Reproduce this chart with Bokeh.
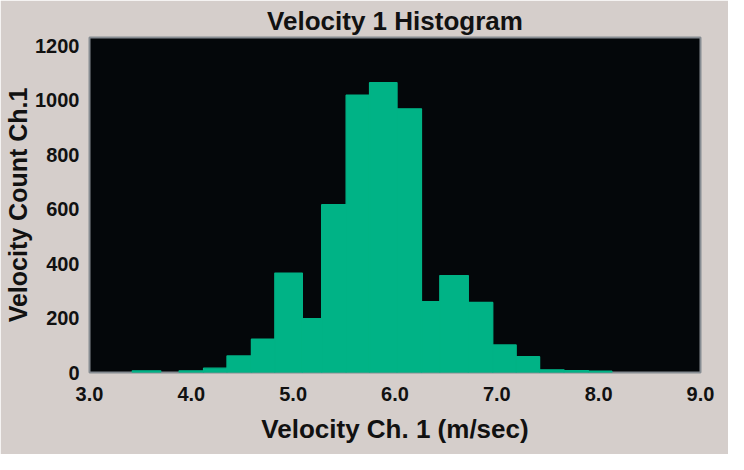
from bokeh.plotting import figure
from bokeh.models import FixedTicker, PrintfTickFormatter, Range1d, ColumnDataSource
from bokeh.embed import file_html
from bokeh.resources import INLINE

# Histogram bins (m/sec) and counts
bin_left = [3.42, 3.88, 4.12, 4.35, 4.59, 4.82, 5.09, 5.28, 5.52, 5.75, 6.02, 6.26, 6.44, 6.72, 6.96, 7.19, 7.42, 7.66, 7.90]
bin_right = [3.70, 4.12, 4.35, 4.59, 4.82, 5.09, 5.28, 5.52, 5.75, 6.02, 6.26, 6.44, 6.72, 6.96, 7.19, 7.42, 7.66, 7.90, 8.13]
counts = [6, 6, 16, 61, 122, 365, 198, 616, 1018, 1064, 968, 260, 356, 257, 101, 58, 10, 7, 5]

x_ticks = [3.0, 4.0, 5.0, 6.0, 7.0, 8.0, 9.0]
y_ticks = [0, 200, 400, 600, 800, 1000, 1200]

title_text = "Velocity 1 Histogram"
x_label = "Velocity Ch. 1 (m/sec)"
y_label = "Velocity Count Ch.1"

BG = "#d5cecb"
PLOT_BG = "#04070a"
GREEN = "#00b386"
FONT = "Liberation Sans"

src = ColumnDataSource(dict(left=bin_left, right=bin_right, top=counts, bottom=[0] * len(counts)))

p = figure(width=728, height=454, output_backend="svg", toolbar_location=None,
           x_range=Range1d(3.0, 9.0), y_range=Range1d(0, 1230),
           background_fill_color=PLOT_BG, border_fill_color=BG,
           min_border_left=89, min_border_right=28, min_border_top=37, min_border_bottom=82,
           title=title_text)

p.quad(left="left", right="right", top="top", bottom="bottom", source=src,
       fill_color=GREEN, line_color=GREEN, line_width=1.3)

p.title.text_font = FONT
p.title.text_font_size = "26px"
p.title.text_font_style = "bold"
p.title.text_color = "#111111"
p.title.align = "center"
p.title.standoff = 4

p.outline_line_color = "#868c92"
p.outline_line_width = 2

p.xgrid.visible = False
p.ygrid.visible = False

for ax in (p.xaxis[0], p.yaxis[0]):
    ax.axis_line_color = None
    ax.major_tick_line_color = None
    ax.minor_tick_line_color = None
    ax.major_tick_out = 0
    ax.major_tick_in = 0
    ax.minor_tick_out = 0
    ax.minor_tick_in = 0
    ax.major_label_text_font = FONT
    ax.major_label_text_font_size = "20px"
    ax.major_label_text_font_style = "bold"
    ax.major_label_text_color = "#111111"
    ax.axis_label_text_font = FONT
    ax.axis_label_text_font_style = "bold"
    ax.axis_label_text_color = "#111111"

p.xaxis[0].ticker = FixedTicker(ticks=x_ticks)
p.xaxis[0].formatter = PrintfTickFormatter(format="%.1f")
p.xaxis[0].axis_label = x_label
p.xaxis[0].axis_label_text_font_size = "26px"
p.xaxis[0].major_label_standoff = 14
p.xaxis[0].axis_label_standoff = 10

p.yaxis[0].ticker = FixedTicker(ticks=y_ticks)
p.yaxis[0].axis_label = y_label
p.yaxis[0].axis_label_text_font_size = "25px"
p.yaxis[0].major_label_standoff = 10
p.yaxis[0].axis_label_standoff = 0

open("out.html", "w").write(file_html(p, INLINE))
